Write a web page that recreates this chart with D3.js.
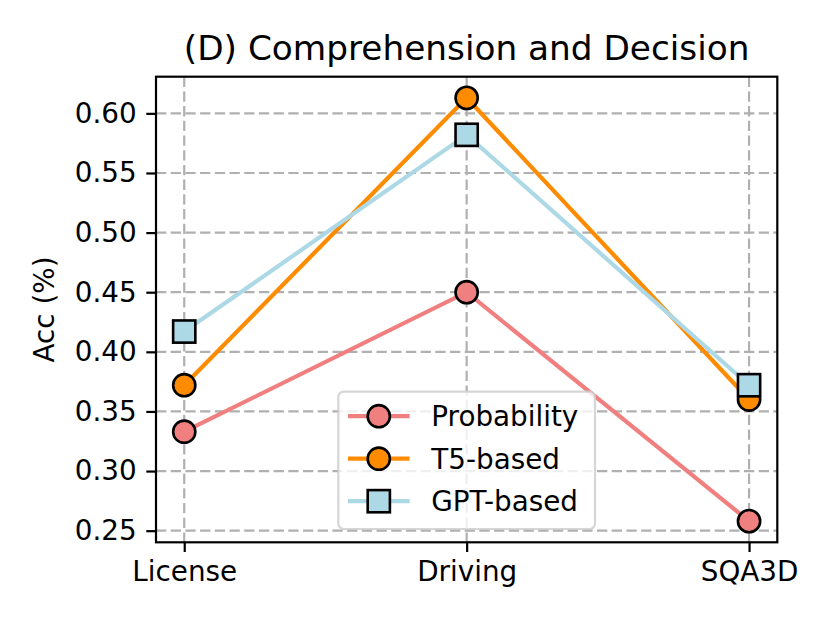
<!DOCTYPE html>
<html>
<head>
<meta charset="utf-8">
<script src="https://cdn.jsdelivr.net/npm/d3@7"></script>
<style>
    body { margin: 0; background: #fff; }
    svg text { font-family: "DejaVu Sans", sans-serif; fill: #000; }
</style>
</head>
<body>
<svg id="drawing_region"></svg>
<script>
// values
const categories = ['License', 'Driving', 'SQA3D'];
const probability = [0.333, 0.450, 0.258];
const t5_based = [0.372, 0.613, 0.360];
const gpt_based = [0.417, 0.582, 0.372];
const y_ticks = [0.25, 0.30, 0.35, 0.40, 0.45, 0.50, 0.55, 0.60];

const series = [
    { label: 'Probability', values: probability, color: '#F08080', marker: 'circle' },
    { label: 'T5-based', values: t5_based, color: '#FF8C00', marker: 'circle' },
    { label: 'GPT-based', values: gpt_based, color: '#ADD8E6', marker: 'square' }
];

const config = {
    width: 830,
    height: 623,
    margin: {top: 76.7, right: 52.7, bottom: 80.7, left: 156}
};

const inner_width = config.width - config.margin.left - config.margin.right;
const inner_height = config.height - config.margin.top - config.margin.bottom;

const svg = d3.select('#drawing_region')
    .attr('width', config.width)
    .attr('height', config.height);

const chart = svg.append('g')
    .attr('transform', `translate(${config.margin.left}, ${config.margin.top})`);

// x: matplotlib style 5% margins -> padding of 0.1 step
const xscale = d3.scalePoint()
    .domain(categories)
    .range([0, inner_width])
    .padding(0.1);

const all_values = [].concat(probability, t5_based, gpt_based);
const ymin = d3.min(all_values), ymax = d3.max(all_values);
const ypad = (ymax - ymin) * 0.05;
const yscale = d3.scaleLinear()
    .domain([ymin - ypad, ymax + ypad])
    .range([inner_height, 0]);

// grid
const grid = chart.append('g');
grid.selectAll('.hgrid')
    .data(y_ticks)
    .enter()
    .append('line')
    .attr('x1', 0).attr('x2', inner_width)
    .attr('y1', d => yscale(d)).attr('y2', d => yscale(d))
    .attr('stroke', '#b0b0b0')
    .attr('stroke-width', 2.2)
    .attr('stroke-dasharray', '10.3,4.4');
grid.selectAll('.vgrid')
    .data(categories)
    .enter()
    .append('line')
    .attr('y1', 0).attr('y2', inner_height)
    .attr('x1', d => xscale(d)).attr('x2', d => xscale(d))
    .attr('stroke', '#b0b0b0')
    .attr('stroke-width', 2.2)
    .attr('stroke-dasharray', '10.3,4.4');

// axes
const xaxis = d3.axisBottom(xscale).tickSizeInner(9.7).tickSizeOuter(0).tickPadding(9);
const yaxis = d3.axisLeft(yscale).tickValues(y_ticks).tickFormat(d3.format('.2f'))
    .tickSizeInner(9.7).tickSizeOuter(0).tickPadding(9.7);

const xaxis_group = chart.append('g')
    .attr('transform', `translate(0, ${inner_height})`)
    .call(xaxis);
const yaxis_group = chart.append('g')
    .call(yaxis);

[xaxis_group, yaxis_group].forEach(g => {
    g.select('.domain').remove();
    g.selectAll('.tick line').attr('stroke', '#000').attr('stroke-width', 2.2);
    g.selectAll('.tick text').style('font-size', '27.8px');
});

// lines + markers
const line = d3.line()
    .x((d, i) => xscale(categories[i]))
    .y(d => yscale(d));

const msize = 22.2;

function drawMarker(g, s, x, y) {
    if (s.marker === 'square') {
        g.append('rect')
            .attr('x', x - msize / 2).attr('y', y - msize / 2)
            .attr('width', msize).attr('height', msize)
            .attr('fill', s.color).attr('stroke', '#000').attr('stroke-width', 2.6);
    } else {
        g.append('circle')
            .attr('cx', x).attr('cy', y).attr('r', msize / 2)
            .attr('fill', s.color).attr('stroke', '#000').attr('stroke-width', 2.6);
    }
}

series.forEach(s => {
    const g = chart.append('g');
    g.append('path')
        .datum(s.values)
        .attr('d', line)
        .attr('fill', 'none')
        .attr('stroke', s.color)
        .attr('stroke-width', 4.2);
    s.values.forEach((v, i) => drawMarker(g, s, xscale(categories[i]), yscale(v)));
});

// frame
chart.append('rect')
    .attr('width', inner_width)
    .attr('height', inner_height)
    .attr('fill', 'none')
    .attr('stroke', '#000')
    .attr('stroke-width', 2.2);

// legend
const legend = chart.append('g')
    .attr('transform', `translate(${338.3 - config.margin.left}, ${391.7 - config.margin.top})`);
legend.append('rect')
    .attr('width', 256.7).attr('height', 137.3)
    .attr('rx', 5.5)
    .attr('fill', 'rgba(255,255,255,0.8)')
    .attr('stroke', 'rgba(204,204,204,0.8)')
    .attr('stroke-width', 2.2);
series.forEach((s, i) => {
    const row = legend.append('g').attr('transform', `translate(0, ${24.5 + i * 42.5})`);
    row.append('line')
        .attr('x1', 9.7).attr('x2', 71.3)
        .attr('stroke', s.color).attr('stroke-width', 4.2);
    drawMarker(row, s, 40.5, 0);
    row.append('text')
        .attr('x', 93)
        .attr('y', 0)
        .attr('dy', '0.36em')
        .style('font-size', '27.8px')
        .text(s.label);
});

// title and y label
svg.append('text')
    .attr('x', config.margin.left + inner_width / 2)
    .attr('y', 60)
    .attr('text-anchor', 'middle')
    .style('font-size', '34.3px')
    .text('(D) Comprehension and Decision');

svg.append('text')
    .attr('transform', `translate(54, ${config.margin.top + inner_height / 2}) rotate(-90)`)
    .attr('text-anchor', 'middle')
    .style('font-size', '27.8px')
    .text('Acc (%)');
</script>
</body>
</html>
